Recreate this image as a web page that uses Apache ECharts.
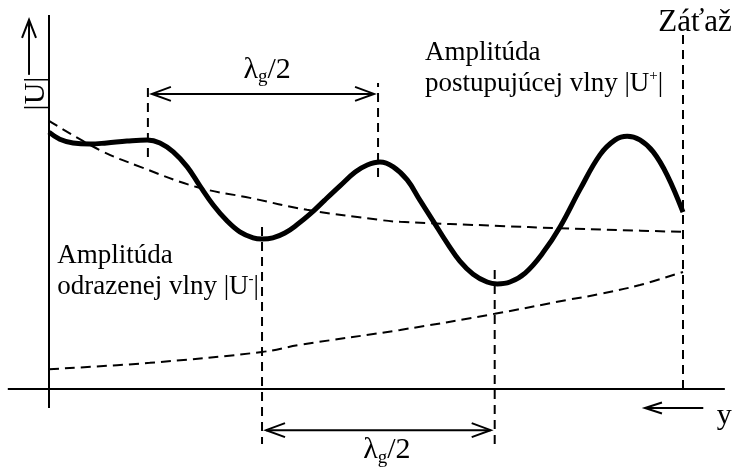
<!DOCTYPE html>
<html>
<head>
<meta charset="utf-8">
<script src="https://cdn.jsdelivr.net/npm/echarts@6/dist/echarts.min.js"></script>
<style>
  html, body { margin: 0; padding: 0; background: #fff; }
  #chart { width: 733px; height: 470px; }
</style>
</head>
<body>
<div id="chart"></div>
<script>
  // position along the line: 0 = start of line, 10 = load (Záťaž)
  // amplitude in the same arbitrary units, 0 = the y axis line

  // standing wave |U|
  var posTotal = [0.00, 0.17, 0.38, 0.65, 0.91, 1.23, 1.55, 1.75, 1.96, 2.18, 2.38, 2.59, 2.81, 3.01,
    3.22, 3.36, 3.53, 3.72, 3.91, 4.12, 4.35, 4.59, 4.83, 5.02, 5.22, 5.43, 5.65, 5.85, 6.06,
    6.28, 6.48, 6.69, 6.91, 7.07, 7.27, 7.51, 7.79, 8.06, 8.38, 8.69, 8.93, 9.12, 9.32, 9.53,
    9.75, 10.00];
  var ampTotal = [6.87, 6.68, 6.58, 6.55, 6.58, 6.63, 6.66, 6.58, 6.34, 5.94, 5.43, 4.92, 4.49, 4.20,
    4.04, 4.01, 4.04, 4.17, 4.39, 4.68, 5.05, 5.43, 5.80, 5.99, 6.07, 5.94, 5.59, 5.05, 4.49,
    3.90, 3.42, 3.07, 2.86, 2.81, 2.86, 3.10, 3.64, 4.33, 5.35, 6.26, 6.66, 6.76, 6.66, 6.34,
    5.72, 4.73];

  // forward wave |U+|
  var posForward = [0, 0.80, 1.44, 2.33, 3.17, 4.07, 5.22, 5.54, 7.11, 8.01, 9.01, 10];
  var ampForward = [7.17, 6.39, 5.94, 5.40, 5.11, 4.79, 4.52, 4.47, 4.36, 4.30, 4.25, 4.20];

  // reflected wave |U-|
  var posReflected = [0, 1.59, 3.36, 3.96, 5.54, 7.03, 8.17, 8.69, 9.32, 10];
  var ampReflected = [0.53, 0.70, 0.99, 1.18, 1.58, 2.01, 2.38, 2.54, 2.78, 3.13];

  // maxima / minima marked with λg/2
  var maxMarks = [1.56, 5.19];
  var minMarks = [3.36, 7.03];
  var loadPos = 10;

  function zip(a, b) {
    return a.map(function(v, i) { return [v, b[i]]; });
  }

  var serif = '"Liberation Serif", "DejaVu Serif", serif';

  /** annotations: axes, arrows, dashed marks and texts */
  function renderNotes(params, api) {
    var kids = [];
    function P(x, y) { return api.coord([x, y]); }
    function seg(a, b, dash, w) {
      kids.push({
        type: 'line',
        shape: { x1: a[0], y1: a[1], x2: b[0], y2: b[1] },
        style: { stroke: '#000', lineWidth: w || 2, lineDash: dash || null, fill: null }
      });
    }
    // open chevron at tip, pointing along (dx, dy)
    function head(tip, dx, dy, len, half) {
      var bx = tip[0] - dx * len, by = tip[1] - dy * len;
      kids.push({
        type: 'polyline',
        shape: { points: [[bx - dy * half, by + dx * half], tip, [bx + dy * half, by - dx * half]] },
        style: { stroke: '#000', lineWidth: 2, fill: null }
      });
    }
    function text(pt, str, rich, align, vAlign, rot) {
      kids.push({
        type: 'text',
        x: pt[0], y: pt[1],
        rotation: rot || 0,
        style: {
          text: str, rich: rich, fill: '#000',
          align: align, verticalAlign: vAlign,
          textAlign: align, textVerticalAlign: vAlign
        }
      });
    }
    var dash = [9, 6];

    // axes
    seg(P(-0.65, 0), P(10.66, 0));
    seg(P(0, -0.51), P(0, 10));

    // |U| arrow
    var ub = P(-0.315, 8.4), ut = P(-0.315, 9.87);
    seg(ub, ut);
    head(ut, 0, -1, 18, 7);

    // load marker
    seg(P(loadPos, 0), P(loadPos, 9.5), dash);

    // upper λg/2
    seg(P(maxMarks[0], 6.2), P(maxMarks[0], 8.18), dash);
    seg(P(maxMarks[1], 5.67), P(maxMarks[1], 8.18), dash);
    var a1 = P(maxMarks[0], 7.89), a2 = P(maxMarks[1], 7.89);
    a1[0] += 4; a2[0] -= 4;
    seg(a1, a2);
    head(a1, -1, 0, 19, 7);
    head(a2, 1, 0, 19, 7);

    // lower λg/2
    seg(P(minMarks[0], 4.33), P(minMarks[0], -1.47), dash);
    seg(P(minMarks[1], 3.18), P(minMarks[1], -1.47), dash);
    var b1 = P(minMarks[0], -1.10), b2 = P(minMarks[1], -1.10);
    b1[0] += 4; b2[0] -= 4;
    seg(b1, b2);
    head(b1, -1, 0, 19, 7);
    head(b2, 1, 0, 19, 7);

    // direction of y
    var y1 = P(10.32, -0.51), y0 = P(9.40, -0.51);
    seg(y1, y0);
    head(y0, -1, 0, 17, 5.5);

    var lam = {
      m: { fontFamily: serif, fontSize: 30, lineHeight: 34 },
      s: { fontFamily: serif, fontSize: 19, lineHeight: 19, verticalAlign: 'bottom' }
    };
    var note = {
      m: { fontFamily: serif, fontSize: 27, lineHeight: 31 },
      p: { fontFamily: serif, fontSize: 15, lineHeight: 15, verticalAlign: 'top' }
    };
    var big = { m: { fontFamily: serif, fontSize: 31, lineHeight: 34 } };
    var axisFont = { m: { fontFamily: serif, fontSize: 30, lineHeight: 34 } };

    text(P(3.44, 8.53), '{m|λ}{s|g}{m|/2}', lam, 'center', 'middle');
    text(P(5.33, -1.64), '{m|λ}{s|g}{m|/2}', lam, 'center', 'middle');
    text(P(10.19, 9.8), '{m|Záťaž}', big, 'center', 'middle');
    text(P(5.93, 8.58), '{m|Amplitúda}\n{m|postupujúcej vlny |U}{p|+}{m||}', note, 'left', 'middle');
    text(P(0.13, 3.15), '{m|Amplitúda}\n{m|odrazenej vlny |U}{p|-}{m||}', note, 'left', 'middle');
    text(P(10.65, -0.72), '{m|y}', axisFont, 'center', 'middle');
    text(P(-0.21, 7.9), '{m||U|}', axisFont, 'center', 'middle', Math.PI / 2);

    return { type: 'group', children: kids };
  }

  var option = {
    backgroundColor: '#fff',
    animation: false,
    grid: { left: 49, right: 50, top: 15, bottom: 81 },
    xAxis: { type: 'value', min: 0, max: 10, show: false },
    yAxis: { type: 'value', min: 0, max: 10, show: false },
    series: [{
      name: '|U-|',
      type: 'line',
      data: zip(posReflected, ampReflected),
      showSymbol: false,
      smooth: 0.4,
      lineStyle: { color: '#000', width: 2, type: [10, 6] }
    }, {
      name: '|U+|',
      type: 'line',
      data: zip(posForward, ampForward),
      showSymbol: false,
      smooth: 0.4,
      lineStyle: { color: '#000', width: 2, type: [10, 6] }
    }, {
      name: '|U|',
      type: 'line',
      data: zip(posTotal, ampTotal),
      showSymbol: false,
      smooth: 0.4,
      lineStyle: { color: '#000', width: 5 },
      z: 3
    }, {
      type: 'custom',
      data: [[0, 0]],
      silent: true,
      clip: false,
      renderItem: renderNotes
    }]
  };

  echarts.init(document.getElementById('chart')).setOption(option);
</script>
</body>
</html>
